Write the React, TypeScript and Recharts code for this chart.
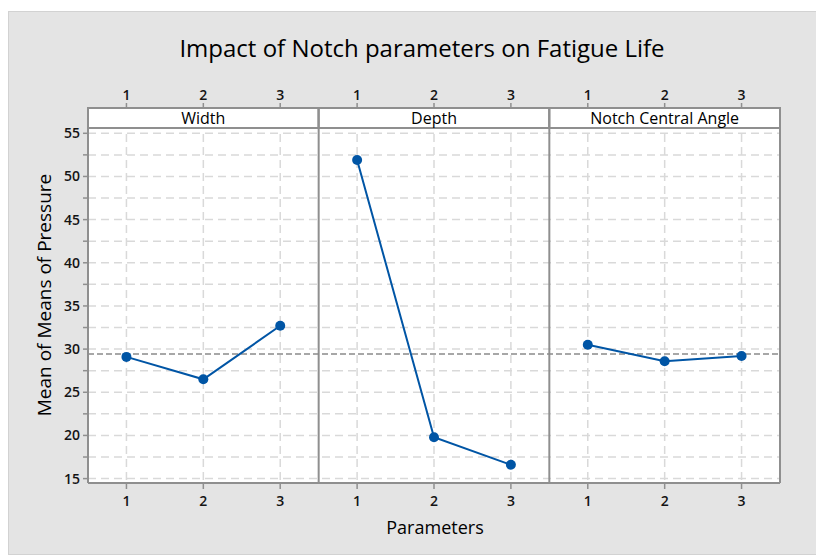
import {
  CartesianGrid,
  Line,
  LineChart,
  ReferenceArea,
  ReferenceLine,
  XAxis,
  YAxis,
} from 'recharts'

// factor levels shown in every panel
const levels = [1, 2, 3]
const panelNames = ['Width', 'Depth', 'Notch Central Angle']

// means of the response at each level
const widthMeans = [29.1, 26.5, 32.7]
const depthMeans = [51.9, 19.8, 16.6]
const angleMeans = [30.5, 28.6, 29.2]

const overallMean = 29.43
const yTicks = [15, 17.5, 20, 22.5, 25, 27.5, 30, 32.5, 35, 37.5, 40, 42.5, 45, 47.5, 50, 52.5, 55]

const FONT = '"Open Sans", "Noto Sans", sans-serif'
const BLUE = '#0055A5'
const FRAME = '#8F8F8F'
const GRID = '#D9D9D9'
const TEXT = '#141414'

// the y range is a little wider than the ticks so the strip headers fit above 55
const Y_MIN = 14.49
const Y_MAX = 57.93
const STRIP_BOTTOM = 55.61

const seriesKeys = ['width', 'depth', 'angle'] as const
const seriesValues = [widthMeans, depthMeans, angleMeans]

// one row per x position; panels sit next to each other at x = 1..3, 4..6, 7..9
const rows = seriesValues.flatMap((vals, p) =>
  levels.map((lv, i) => ({ x: p * levels.length + lv, [seriesKeys[p]]: vals[i] }))
)
const xTicks = rows.map((r) => r.x)
const levelLabel = (v: number) => String(((v - 1) % levels.length) + 1)

export default function App() {
  const tickStyle = { fontSize: 14, fill: TEXT, fontFamily: FONT, fontWeight: 600 }
  return (
    <div
      style={{
        position: 'relative',
        marginTop: 3,
        width: 816,
        height: 544,
        boxSizing: 'border-box',
        background: '#E4E4E4',
        border: '1px solid #D2D2D2',
        fontFamily: FONT,
        color: TEXT,
      }}
    >
      <div
        style={{
          position: 'absolute',
          left: 413,
          top: 36,
          transform: 'translate(-50%, -50%)',
          fontSize: 24,
          lineHeight: 1,
          whiteSpace: 'nowrap',
          color: '#000',
        }}
      >
        Impact of Notch parameters on Fatigue Life
      </div>
      <div
        style={{
          position: 'absolute',
          left: 35,
          top: 283,
          transform: 'translate(-50%, -50%) rotate(-90deg)',
          fontSize: 19,
          lineHeight: 1,
          whiteSpace: 'nowrap',
          color: '#000',
        }}
      >
        Mean of Means of Pressure
      </div>
      <div
        style={{
          position: 'absolute',
          left: 426,
          top: 515,
          transform: 'translate(-50%, -50%)',
          fontSize: 18,
          lineHeight: 1,
          whiteSpace: 'nowrap',
          color: '#000',
        }}
      >
        Parameters
      </div>
      <LineChart
        width={814}
        height={542}
        data={rows}
        margin={{ top: 76, right: 3, bottom: 31, left: 39 }}
        style={{ position: 'absolute', left: 0, top: 0 }}
      >
        <CartesianGrid fill="#FFFFFF" fillOpacity={1} stroke={GRID} strokeDasharray="8 5" strokeWidth={1.5} />
        <XAxis
          dataKey="x"
          type="number"
          domain={[0.5, 9.5]}
          ticks={xTicks}
          tickFormatter={levelLabel}
          height={40}
          tick={tickStyle}
          tickSize={6}
          tickMargin={7}
          axisLine={{ stroke: FRAME, strokeWidth: 2 }}
          tickLine={{ stroke: FRAME, strokeWidth: 1.5 }}
        />
        <XAxis
          xAxisId="top"
          orientation="top"
          dataKey="x"
          type="number"
          domain={[0.5, 9.5]}
          ticks={xTicks}
          tickFormatter={levelLabel}
          height={20}
          tick={tickStyle}
          tickSize={5}
          tickMargin={3}
          axisLine={{ stroke: FRAME, strokeWidth: 2 }}
          tickLine={{ stroke: FRAME, strokeWidth: 1.5 }}
        />
        <YAxis
          type="number"
          domain={[Y_MIN, Y_MAX]}
          ticks={yTicks}
          tickFormatter={(v: number) => (v % 5 === 0 ? String(v) : '')}
          width={40}
          tick={tickStyle}
          tickSize={5}
          tickMargin={3}
          axisLine={{ stroke: FRAME, strokeWidth: 2 }}
          tickLine={{ stroke: FRAME, strokeWidth: 1.5 }}
        />
        <YAxis
          yAxisId="right"
          orientation="right"
          type="number"
          domain={[Y_MIN, Y_MAX]}
          ticks={yTicks}
          tickFormatter={(v: number) => (v % 5 === 0 ? String(v) : '')}
          width={40}
          tick={tickStyle}
          tickSize={6}
          tickMargin={7}
          axisLine={{ stroke: FRAME, strokeWidth: 2 }}
          tickLine={{ stroke: FRAME, strokeWidth: 1.5 }}
        />
        {panelNames.map((name, p) => (
          <ReferenceArea
            key={name}
            x1={p * 3 + 0.5}
            x2={p * 3 + 3.5}
            y1={STRIP_BOTTOM}
            y2={Y_MAX}
            fill="#FFFFFF"
            fillOpacity={1}
            stroke={FRAME}
            strokeWidth={2}
            label={{ value: name, position: 'center', fontSize: 16, fill: '#000', fontFamily: FONT, fontWeight: 500 }}
          />
        ))}
        <ReferenceLine x={3.5} stroke={FRAME} strokeWidth={2} />
        <ReferenceLine x={6.5} stroke={FRAME} strokeWidth={2} />
        <ReferenceLine y={overallMean} stroke="#8A8A8A" strokeWidth={1.5} strokeDasharray="6 3" />
        {seriesKeys.map((k) => (
          <Line
            key={k}
            dataKey={k}
            type="linear"
            stroke={BLUE}
            strokeWidth={2}
            dot={{ r: 5, fill: BLUE, stroke: BLUE, strokeWidth: 0 }}
            activeDot={false}
            isAnimationActive={false}
          />
        ))}
      </LineChart>
    </div>
  )
}
